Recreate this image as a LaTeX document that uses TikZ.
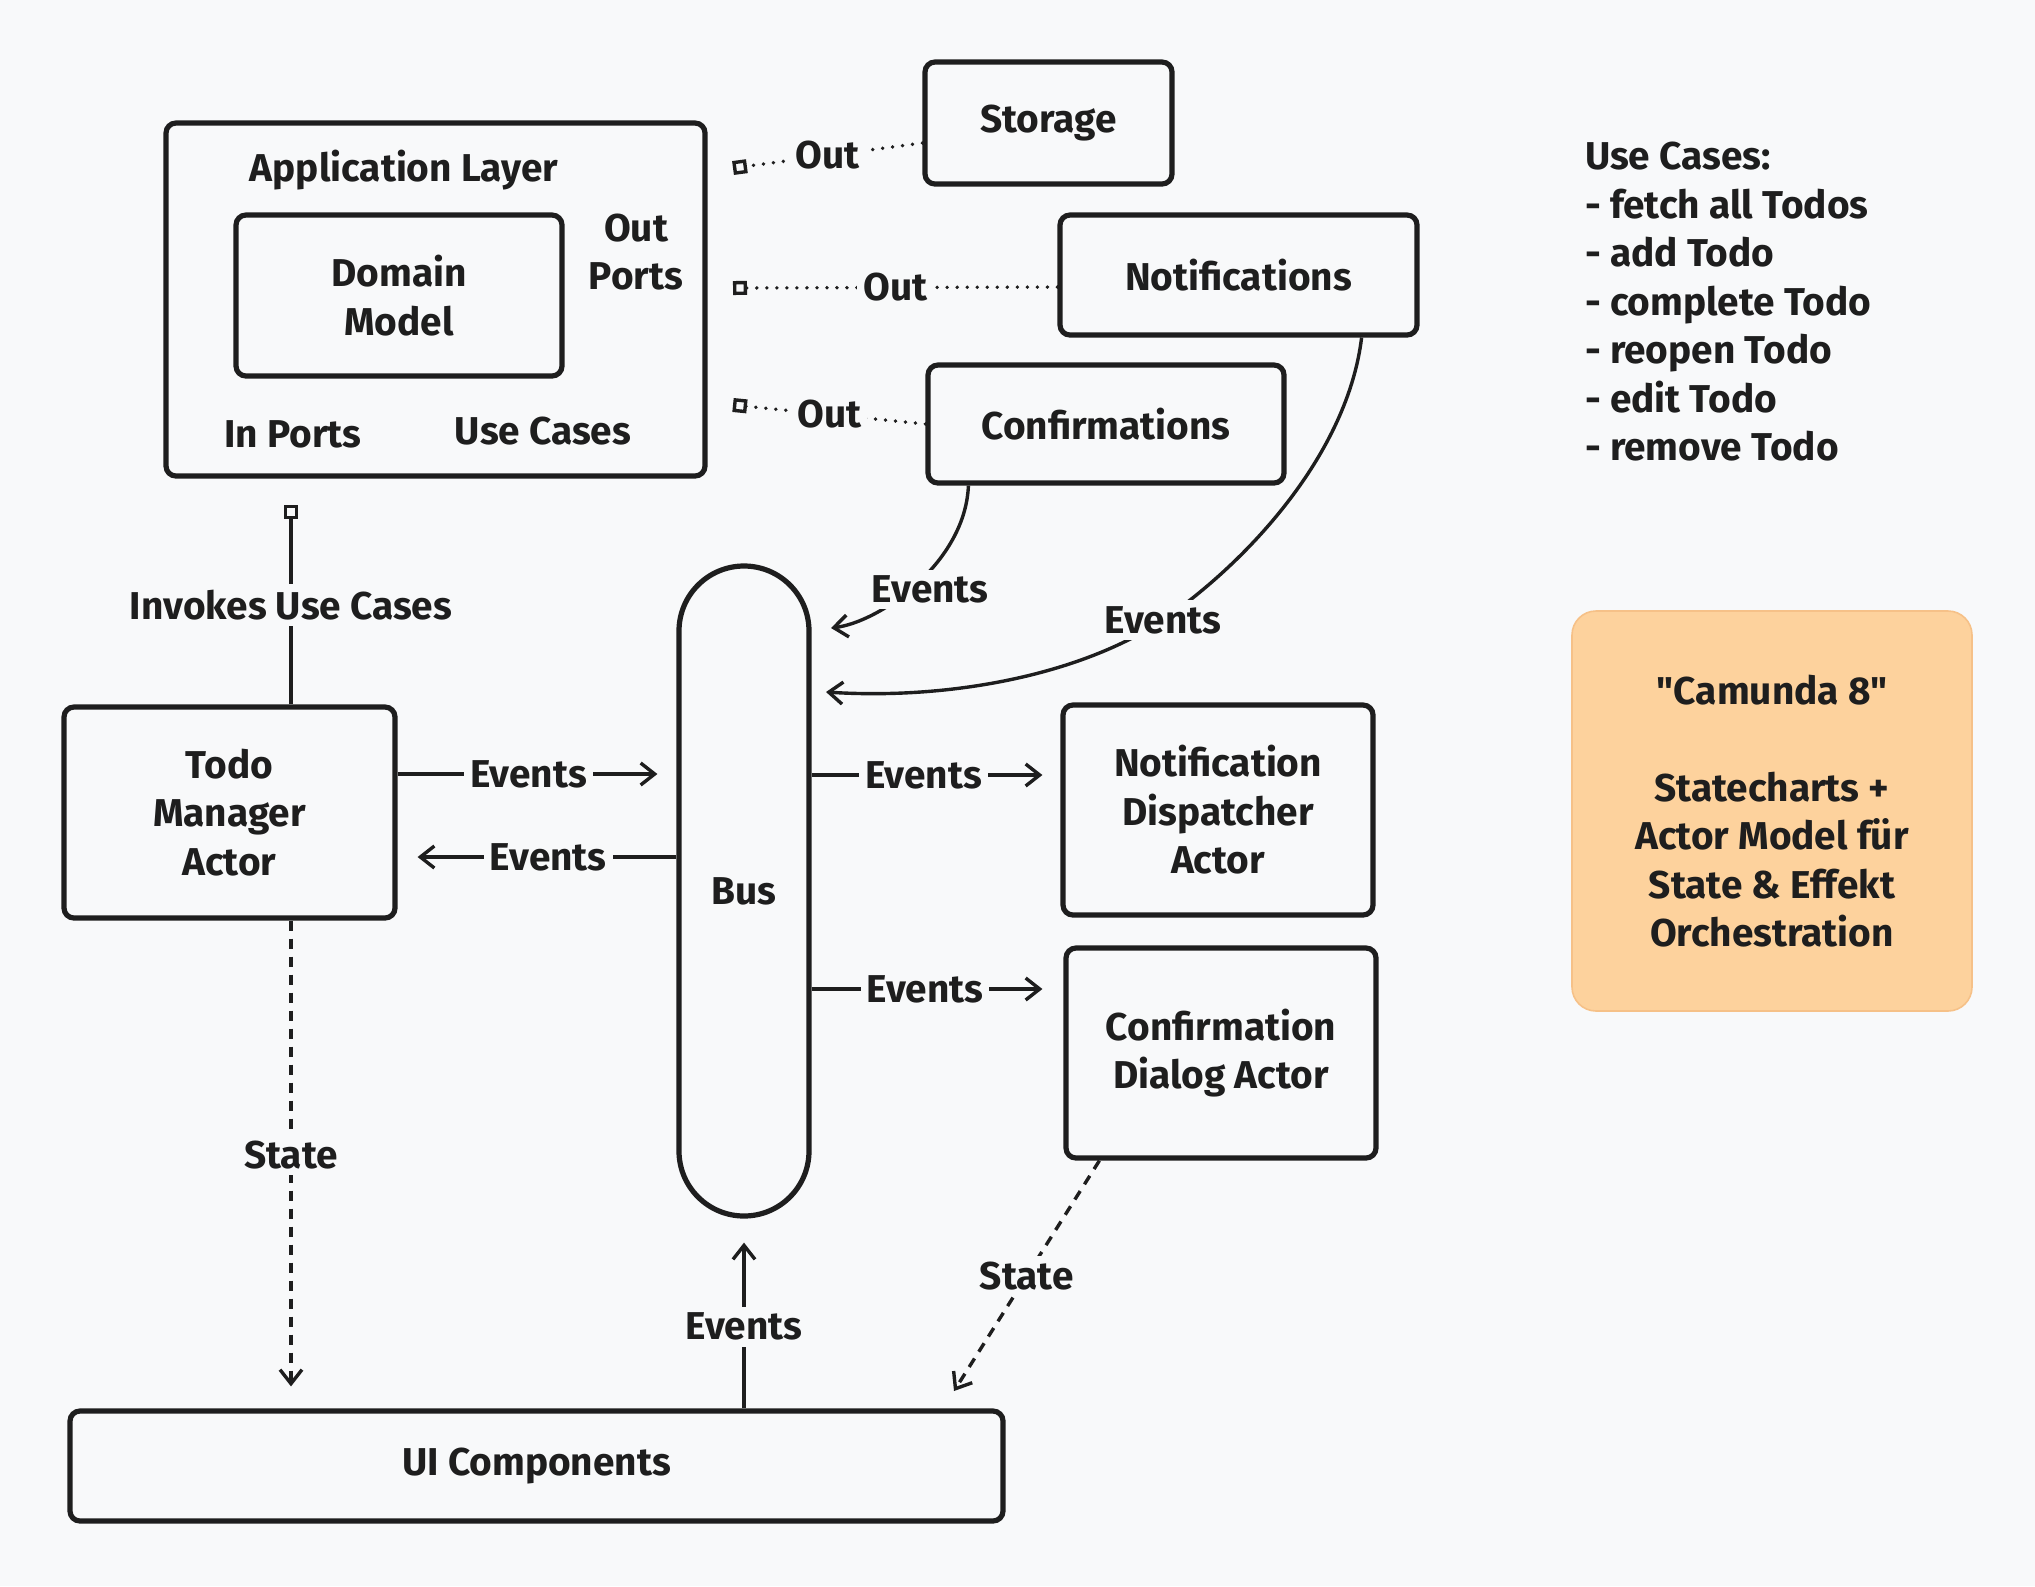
\documentclass[tikz,border=0pt]{standalone}
\usepackage{fontspec}
\setmainfont{Fira Sans}[Ligatures=TeXOff]
\usetikzlibrary{arrows.meta}

\definecolor{paper}{HTML}{F8F9FA}
\definecolor{ink}{HTML}{1E1E1E}
\definecolor{peach}{HTML}{FDD29D}
\definecolor{peachline}{HTML}{F6C188}

\tikzset{
  box/.style={draw=ink, line width=2.6pt, rounded corners=5pt, align=center, inner sep=0pt},
  lbl/.style={fill=paper, inner sep=3pt},
  flow/.style={draw=ink, line width=1.7pt, -{Straight Barb[length=7pt,width=11pt]}},
  stateflow/.style={flow, dash pattern=on 5pt off 4pt},
  portdots/.style={draw=ink, line width=1.9pt, dash pattern=on 0.01pt off 5pt, line cap=round, -{Square[open,length=7pt,width=7pt,line width=1.7pt]}},
  portline/.style={draw=ink, line width=1.7pt, -{Square[open,length=7pt,width=7pt]}},
}

\begin{document}
\begin{tikzpicture}[x=0.5pt, y=-0.5pt, every node/.style={text=ink, font=\fontsize{19.4}{24.25}\selectfont\bfseries}]

% Background
\fill[paper] (0,0) rectangle (2035,1586);

% Application layer
\node[box, minimum width=269.5pt, minimum height=176.5pt] (app) at (435.5,299.5) {};
\node (applbl) at (404,170) {Application Layer};
\node[box, minimum width=163pt, minimum height=80.5pt] (domain) at (399,295.5) {Domain\\Model};
\node[align=center] (outports) at (636,252) {Out\\Ports};
\node (inports) at (293,434) {In Ports};
\node (usecases) at (543,431) {Use Cases};

% Adapters on the right
\node[box, minimum width=123.5pt, minimum height=61pt] (storage) at (1048.5,123) {Storage};
\node[box, minimum width=178.5pt, minimum height=60pt] (notif) at (1238.5,275) {Notifications};
\node[box, minimum width=178pt, minimum height=59pt] (confirm) at (1106,424) {Confirmations};

% Actors and bus
\node[box, minimum width=165.5pt, minimum height=105.5pt] (todo) at (229.5,812.5) {Todo\\Manager\\Actor};
\node[box, rounded corners=32.5pt, minimum width=65pt, minimum height=325pt] (bus) at (744,891) {Bus};
\node[box, minimum width=155pt, minimum height=105pt] (dispatch) at (1218,810) {Notification\\Dispatcher\\Actor};
\node[box, minimum width=155pt, minimum height=105pt] (dialog) at (1221,1053) {Confirmation\\Dialog Actor};
\node[box, minimum width=466.5pt, minimum height=55pt] (ui) at (536.5,1466) {UI Components};

% Use case list
\node[anchor=west, align=left] (uclist) at (1578,302) {Use Cases:\\- fetch all Todos\\- add Todo\\- complete Todo\\- reopen Todo\\- edit Todo\\- remove Todo};

% Note
\node[fill=peach, draw=peachline, line width=0.8pt, rounded corners=12pt, minimum width=200pt, minimum height=200pt, align=center] (note) at (1772,811)
  {"Camunda 8"\\[24.25pt]Statecharts +\\Actor Model für\\State \& Effekt\\Orchestration};

% Port ends
\coordinate (p1) at (733,168);
\coordinate (p2) at (733,288);
\coordinate (p3) at (733,405);
\coordinate (p4) at (291,505);
\coordinate (busA) at (831,628);
\coordinate (evB) at (1163,620);
\coordinate (busB) at (826,692);
\coordinate (uiS) at (954,1391);

% Out ports
\draw[portdots] ([yshift=-10pt]storage.west) -- node[lbl]{Out} (p1);
\draw[portdots] ([yshift=-6pt]notif.west) -- node[lbl]{Out} (p2);
\draw[portdots] (confirm.west) -- node[lbl]{Out} (p3);

% Invokes use cases
\draw[portline] ([xshift=30.75pt]todo.north) -- node[lbl]{Invokes Use Cases} (p4);

% Events into the bus
\draw[flow] ([xshift=21.5pt]confirm.south west) .. controls +(-3,77) and +(49,-6) .. node[lbl, pos=0.54, xshift=10pt]{Events} (busA);
\draw[flow] ([xshift=-29pt]notif.south east) .. controls +(-14,115) and +(87,-60) .. (evB) node[lbl]{Events}
  .. controls +(-83,55) and +(124,8) .. (busB);
\draw[flow, shorten >=9.5pt] ([yshift=19.25pt]todo.east) -- node[lbl, pos=0.47]{Events} ([yshift=19.25pt]todo.east -| bus.west);
\draw[flow, shorten >=10pt] ([yshift=-22.25pt]todo.east -| bus.west) -- node[lbl, pos=0.46]{Events} ([yshift=-22.25pt]todo.east);
\draw[flow, shorten >=9pt] ([yshift=17.5pt]dispatch.west -| bus.east) -- node[lbl, pos=0.45]{Events} ([yshift=17.5pt]dispatch.west);
\draw[flow, shorten >=10.5pt] ([yshift=32pt]dialog.west -| bus.east) -- node[lbl, pos=0.45]{Events} ([yshift=32pt]dialog.west);
\draw[flow, shorten >=12pt] (ui.north -| bus.south) -- node[lbl, pos=0.43]{Events} (bus.south);

% State to the UI
\draw[stateflow, shorten >=11pt] ([xshift=30.75pt]todo.south) -- node[lbl, pos=0.48]{State} ([xshift=30.75pt]todo.south |- ui.north);
\draw[stateflow] ([xshift=18pt]dialog.south west) -- node[lbl]{State} (uiS);

\end{tikzpicture}
\end{document}
